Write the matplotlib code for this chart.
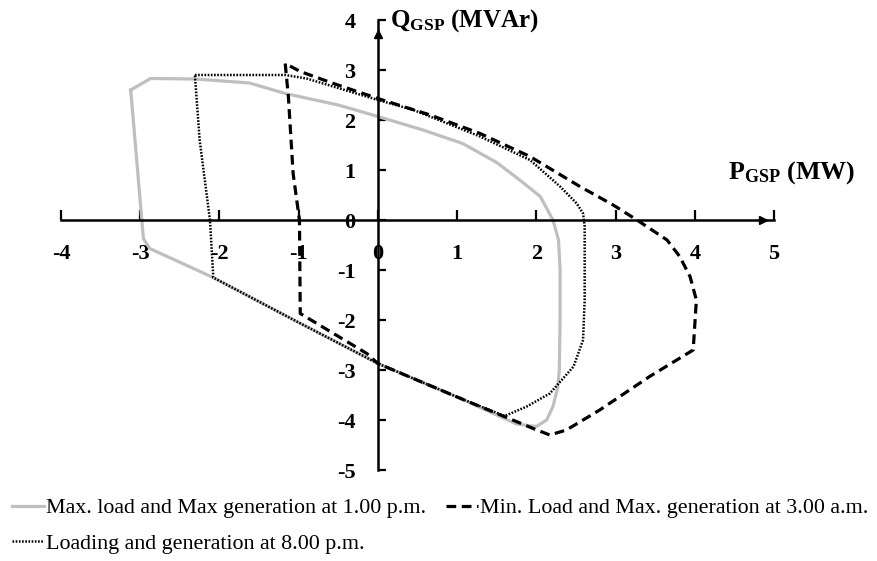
import matplotlib
matplotlib.use("Agg")
import matplotlib.pyplot as plt

plt.rcParams["font.family"] = "Liberation Serif"
plt.rcParams["axes.unicode_minus"] = False
plt.rcParams["mathtext.fontset"] = "custom"
plt.rcParams["mathtext.rm"] = "Liberation Serif:bold"
plt.rcParams["mathtext.bf"] = "Liberation Serif:bold"
plt.rcParams["lines.scale_dashes"] = False

# P-Q capability envelopes at the grid supply point (P in MW, Q in MVAr)
p_peak = [-3.12, -2.87, -2.30, -1.62, -1.17, -0.50, 0.00, 0.57, 1.07, 1.50, 1.79,
          2.05, 2.21, 2.28, 2.30, 2.30, 2.29, 2.27, 2.21, 2.13, 2.00, 1.75, 1.00,
          0.00, -1.00, -2.08, -2.88, -2.96, -3.03, -3.12]
q_peak = [2.60, 2.83, 2.82, 2.74, 2.53, 2.30, 2.07, 1.80, 1.53, 1.15, 0.80,
          0.47, 0.00, -0.40, -1.00, -2.00, -3.00, -3.35, -3.73, -4.00, -4.13, -4.08, -3.54,
          -2.87, -2.05, -1.15, -0.57, -0.37, 0.93, 2.60]

p_night = [-1.17, -1.13, -1.07, -0.99, -0.98, -0.56, -0.14, 0.00, 1.00, 1.96, 2.17,
           2.38, 2.80, 3.43, 3.98, 4.02, 3.94, 3.81, 3.65, 3.27, 2.97, 2.55, 1.92,
           1.29, 0.66, 0.00, -0.56, -0.98, -1.17]
q_night = [3.13, 2.47, 0.93, 0.00, -1.87, -2.27, -2.67, -2.87, -3.54, -4.17, -4.30,
           -4.20, -3.80, -3.13, -2.60, -1.60, -1.13, -0.73, -0.40, 0.00, 0.30, 0.67, 1.27,
           1.73, 2.10, 2.43, 2.73, 2.97, 3.13]

p_evening = [-2.31, -1.17, -0.90, 0.00, 0.45, 1.29, 1.92, 2.30, 2.51, 2.59, 2.61,
             2.61, 2.59, 2.47, 2.17, 1.88, 1.60, 1.00, 0.00, -1.00, -2.08, -2.08,
             -2.12, -2.25, -2.31]
q_evening = [2.90, 2.90, 2.83, 2.40, 2.20, 1.67, 1.20, 0.67, 0.33, 0.13, -0.13,
             -1.60, -2.40, -2.93, -3.47, -3.73, -3.92, -3.54, -2.87, -2.05, -1.15, -1.07,
             0.00, 1.60, 2.90]

labels = ["Max. load and Max generation at 1.00 p.m.",
          "Min. Load and Max. generation at 3.00 a.m.",
          "Loading and generation at 8.00 p.m."]

x_ticks = [-4, -3, -2, -1, 0, 1, 2, 3, 4, 5]
y_ticks = [-5, -4, -3, -2, -1, 0, 1, 2, 3, 4]

W, H = 877, 561
fig = plt.figure(figsize=(W / 100, H / 100), dpi=100)
ax = fig.add_axes([61 / W, 91 / H, 713 / W, 450 / H])
ax.set_xlim(x_ticks[0], x_ticks[-1])
ax.set_ylim(y_ticks[0], y_ticks[-1])
ax.patch.set_alpha(0)

l_peak, = ax.plot(p_peak, q_peak, color="#bfbfbf", lw=2.3, label=labels[0],
                  solid_joinstyle="round", zorder=2)
l_night, = ax.plot(p_night, q_night, color="black", lw=2.3, dashes=(7, 4),
                   label=labels[1], zorder=3)
l_even, = ax.plot(p_evening, q_evening, color="black", lw=1.8, dashes=(1.2, 1.1),
                  label=labels[2], zorder=4)

# axes crossing at the origin
for s in ("top", "right"):
    ax.spines[s].set_visible(False)
for s in ("left", "bottom"):
    ax.spines[s].set_position(("data", 0))
    ax.spines[s].set_linewidth(1.8)

ax.set_xticks(x_ticks)
ax.set_yticks(y_ticks)
ax.tick_params(axis="x", direction="in", length=7, width=1.6, pad=17, labelsize=16)
ax.tick_params(axis="y", direction="in", length=6, width=1.6, pad=16, labelsize=16)
for lab in ax.get_xticklabels() + ax.get_yticklabels():
    lab.set_fontweight("bold")

# arrow heads on the axes
ax.plot(0.985, 0, ">k", ms=6, transform=ax.get_yaxis_transform(), clip_on=False)
ax.plot(0, 0.968, "^k", ms=6, transform=ax.get_xaxis_transform(), clip_on=False)

fig.text(390 / W, 1 - 27 / H, r"$\mathbf{Q_{GSP}}$ (MVAr)", fontsize=18,
         fontweight="bold", va="baseline", ha="left")
fig.text(728 / W, 1 - 179 / H, r"$\mathbf{P_{GSP}}$ (MW)", fontsize=18.7,
         fontweight="bold", va="baseline", ha="left")

fig.legend(handles=[l_peak, l_even, l_night], ncol=2, loc="upper left",
           bbox_to_anchor=(12 / W, 1 - 498 / H), frameon=False, fontsize=15.8,
           handlelength=1.45, handletextpad=0.1, columnspacing=0.9,
           labelspacing=0.68, borderaxespad=0, borderpad=0)

fig.savefig("out.png", dpi=100, facecolor="white")
